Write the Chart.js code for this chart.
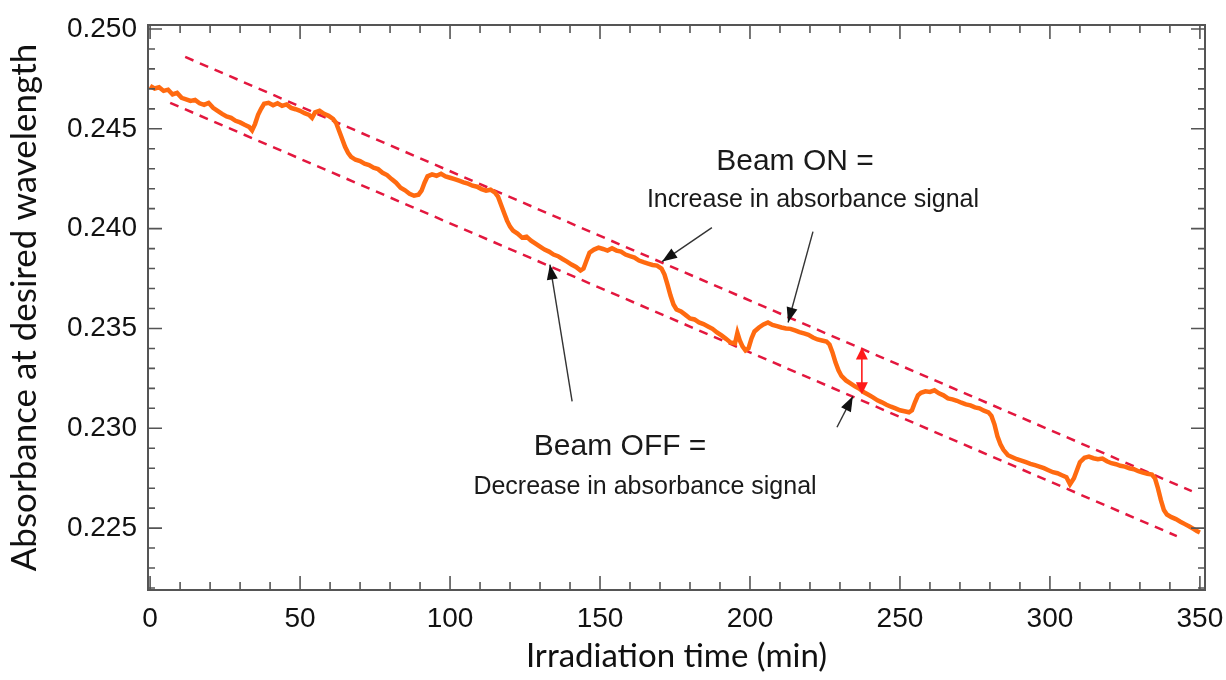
<!DOCTYPE html>
<html>
<head>
<meta charset="utf-8">
<script src="https://cdn.jsdelivr.net/npm/chart.js@4.4.1/dist/chart.umd.min.js"></script>
<style>
html, body { margin: 0; padding: 0; background: #fff; }
#wrap { width: 1226px; height: 680px; }
</style>
</head>
<body>
<div id="wrap"><canvas id="myChart"></canvas></div>
<script>
// irradiation time (min) and absorbance
var timeMin = [
  0, 1.5, 3, 4.5, 6, 7.5, 9, 10.5, 12, 13.5, 15, 16.5, 18, 19.5, 21, 22.5, 24, 25.5, 27, 28.5, 30, 31.5, 33, 34,
  35, 36, 37, 38, 39.5, 41, 42.5, 44, 45.5, 47, 48.5, 50, 51.5, 53, 54, 55, 56.5, 58, 59.5, 61, 62,
  63, 64, 65, 66, 67, 68.5, 70, 71.5, 73, 74.5, 76, 77.5, 79, 80.5, 82, 83.5, 85, 86.5, 88, 89.5,
  90.5, 91.5, 92.5, 94, 95.5, 97, 98.5, 100, 101.5, 103, 104.5, 106, 107.5, 109, 110.5, 112, 113.5, 115, 116,
  117, 118, 119, 120, 121, 122.5, 124, 125.5, 127, 128.5, 130, 131.5, 133, 134.5, 136, 137.5, 139, 140.5, 142, 143.5, 144.5,
  145.5, 146.5, 148, 149.5, 151, 152.5, 154, 155.5, 157, 158.5, 160, 161.5, 163, 164.5, 166, 167.5, 169, 170.5, 171.5,
  172.5, 173.5, 174.5, 175.5, 177, 178.5, 180, 181.5, 183, 184.5, 186, 187.5, 189, 190.5, 192, 193.5, 195, 195.8, 196.6, 197.5, 198.5, 199.5,
  200.5, 201.5, 203, 204.5, 206, 207.5, 209, 210.5, 212, 213.5, 215, 216.5, 218, 219.5, 221, 222.5, 224, 225.5, 226.5,
  227.5, 228.5, 229.5, 230.5, 232, 233.5, 235, 236.5, 238, 239.5, 241, 242.5, 244, 245.5, 247, 248.5, 250, 251.5, 253, 254,
  255, 256, 257, 258.5, 260, 261.5, 263, 264.5, 266, 267.5, 269, 270.5, 272, 273.5, 275, 276.5, 278, 279.5, 280.5,
  281.5, 282.5, 283.5, 284.5, 286, 287.5, 289, 290.5, 292, 293.5, 295, 296.5, 298, 299.5, 301, 302.5, 304, 305.5, 306.7,
  308, 309, 310, 311.5, 313, 314.5, 316, 317.5, 319, 320.5, 322, 323.5, 325, 326.5, 328, 329.5, 331, 332.5, 334, 335,
  336, 337, 338, 339, 340.5, 342, 343.5, 345, 346.5, 348, 349, 350
];
var absorbance = [
  0.24715, 0.24702, 0.24708, 0.24690, 0.24696, 0.24672, 0.24680, 0.24655, 0.24648, 0.24640, 0.24645, 0.24628, 0.24620, 0.24630, 0.24605, 0.24590, 0.24575, 0.24562, 0.24555, 0.24540, 0.24532, 0.24520, 0.24510, 0.24492,
  0.24525, 0.24570, 0.24600, 0.24625, 0.24630, 0.24618, 0.24628, 0.24615, 0.24622, 0.24605, 0.24598, 0.24590, 0.24578, 0.24570, 0.24555, 0.24582, 0.24590, 0.24575, 0.24565, 0.24550, 0.24530,
  0.24490, 0.24450, 0.24410, 0.24380, 0.24360, 0.24345, 0.24338, 0.24325, 0.24318, 0.24305, 0.24298, 0.24280, 0.24268, 0.24248, 0.24230, 0.24205, 0.24192, 0.24175, 0.24165, 0.24170,
  0.24190, 0.24230, 0.24262, 0.24272, 0.24265, 0.24275, 0.24262, 0.24255, 0.24248, 0.24240, 0.24232, 0.24225, 0.24215, 0.24210, 0.24198, 0.24190, 0.24195, 0.24180, 0.24160,
  0.24120, 0.24080, 0.24040, 0.24010, 0.23990, 0.23975, 0.23955, 0.23960, 0.23940, 0.23925, 0.23910, 0.23895, 0.23885, 0.23870, 0.23862, 0.23848, 0.23835, 0.23820, 0.23808, 0.23790, 0.23800,
  0.23840, 0.23880, 0.23895, 0.23905, 0.23898, 0.23890, 0.23902, 0.23890, 0.23885, 0.23870, 0.23862, 0.23855, 0.23840, 0.23832, 0.23825, 0.23818, 0.23815, 0.23800, 0.23770,
  0.23720, 0.23665, 0.23620, 0.23595, 0.23585, 0.23568, 0.23550, 0.23545, 0.23530, 0.23522, 0.23510, 0.23498, 0.23480, 0.23465, 0.23448, 0.23430, 0.23425, 0.23478, 0.23440, 0.23410, 0.23390, 0.23400,
  0.23450, 0.23485, 0.23505, 0.23520, 0.23530, 0.23518, 0.23512, 0.23505, 0.23500, 0.23498, 0.23490, 0.23482, 0.23475, 0.23468, 0.23455, 0.23445, 0.23440, 0.23435, 0.23420,
  0.23380, 0.23330, 0.23290, 0.23262, 0.23240, 0.23225, 0.23210, 0.23198, 0.23180, 0.23168, 0.23155, 0.23140, 0.23130, 0.23118, 0.23108, 0.23100, 0.23090, 0.23085, 0.23080, 0.23090,
  0.23130, 0.23165, 0.23178, 0.23185, 0.23182, 0.23190, 0.23175, 0.23165, 0.23150, 0.23145, 0.23138, 0.23128, 0.23120, 0.23115, 0.23105, 0.23100, 0.23088, 0.23080, 0.23062,
  0.23020, 0.22960, 0.22920, 0.22892, 0.22865, 0.22855, 0.22845, 0.22838, 0.22830, 0.22822, 0.22815, 0.22808, 0.22800, 0.22790, 0.22780, 0.22775, 0.22765, 0.22755, 0.22720,
  0.22750, 0.22790, 0.22830, 0.22852, 0.22858, 0.22850, 0.22845, 0.22848, 0.22835, 0.22825, 0.22820, 0.22812, 0.22808, 0.22800, 0.22795, 0.22785, 0.22778, 0.22772, 0.22768, 0.22750,
  0.22700, 0.22640, 0.22590, 0.22568, 0.22555, 0.22545, 0.22532, 0.22520, 0.22508, 0.22495, 0.22485, 0.22478
];

// dashed guide lines (start / end)
var upperGuideX = [11.7, 347.3];
var upperGuideY = [0.2486, 0.22685];
var lowerGuideX = [6.7, 342.3];
var lowerGuideY = [0.2463, 0.2246];

var xTickValues = [0, 50, 100, 150, 200, 250, 300, 350];
var yTickValues = [0.225, 0.230, 0.235, 0.240, 0.245, 0.250];

// annotation texts: [text, t, absorbance, font]
var notes = [
  ['Beam ON =', 215, 0.24335, '30px "Liberation Sans", Arial, sans-serif'],
  ['Increase in absorbance signal', 221, 0.24145, '25px "Liberation Sans", Arial, sans-serif'],
  ['Beam OFF =', 156.7, 0.2291, '30px "Liberation Sans", Arial, sans-serif'],
  ['Decrease in absorbance signal', 165, 0.22705, '25px "Liberation Sans", Arial, sans-serif']
];
// black arrows: [fromT, fromA, toT, toA]
var arrows = [
  [187.3, 0.24005, 170.7, 0.23835],
  [221, 0.23985, 212.7, 0.2353],
  [140.7, 0.23135, 133.3, 0.2382],
  [229, 0.23005, 234.3, 0.2316]
];
// red double arrow: [t, top, bottom]
var gapArrow = [237.3, 0.23405, 0.2317];

function toPoints(xs, ys) {
  return xs.map(function (v, i) { return { x: v, y: ys[i] }; });
}

function arrowHead(ctx, x1, y1, x2, y2, len, w) {
  var a = Math.atan2(y2 - y1, x2 - x1);
  ctx.beginPath();
  ctx.moveTo(x2, y2);
  ctx.lineTo(x2 - len * Math.cos(a) + w * Math.sin(a), y2 - len * Math.sin(a) - w * Math.cos(a));
  ctx.lineTo(x2 - len * Math.cos(a) - w * Math.sin(a), y2 - len * Math.sin(a) + w * Math.cos(a));
  ctx.closePath();
  ctx.fill();
}

var framePlugin = {
  id: 'frame',
  afterDraw: function (chart) {
    var ctx = chart.ctx, a = chart.chartArea, x = chart.scales.x, y = chart.scales.y;
    ctx.save();
    ctx.strokeStyle = '#555';
    ctx.lineWidth = 2;
    ctx.strokeRect(a.left, a.top, a.right - a.left, a.bottom - a.top);
    ctx.lineWidth = 1.6;
    ctx.beginPath();
    for (var k = 0; k <= 35; k++) {
      var px = x.getPixelForValue(k * 10);
      var len = k % 5 === 0 ? 14 : 8;
      ctx.moveTo(px, a.bottom); ctx.lineTo(px, a.bottom - len);
      ctx.moveTo(px, a.top); ctx.lineTo(px, a.top + len);
    }
    for (var m = 222; m <= 250; m++) {
      var py = y.getPixelForValue(m / 1000);
      var l2 = m % 5 === 0 ? 14 : 7;
      ctx.moveTo(a.left, py); ctx.lineTo(a.left + l2, py);
      ctx.moveTo(a.right, py); ctx.lineTo(a.right - l2, py);
    }
    ctx.stroke();

    // text notes
    ctx.fillStyle = '#1a1a1a';
    ctx.textAlign = 'center';
    ctx.textBaseline = 'middle';
    notes.forEach(function (n) {
      ctx.font = n[3];
      ctx.fillText(n[0], x.getPixelForValue(n[1]), y.getPixelForValue(n[2]));
    });

    // black arrows
    ctx.strokeStyle = '#333';
    ctx.fillStyle = '#111';
    ctx.lineWidth = 1.4;
    arrows.forEach(function (r) {
      var x1 = x.getPixelForValue(r[0]), y1 = y.getPixelForValue(r[1]);
      var x2 = x.getPixelForValue(r[2]), y2 = y.getPixelForValue(r[3]);
      ctx.beginPath(); ctx.moveTo(x1, y1); ctx.lineTo(x2, y2); ctx.stroke();
      arrowHead(ctx, x1, y1, x2, y2, 15, 5.5);
    });

    // red double arrow
    var gx = x.getPixelForValue(gapArrow[0]);
    var gy1 = y.getPixelForValue(gapArrow[1]), gy2 = y.getPixelForValue(gapArrow[2]);
    ctx.strokeStyle = '#ff1a1a';
    ctx.fillStyle = '#ff1a1a';
    ctx.lineWidth = 1.6;
    ctx.beginPath(); ctx.moveTo(gx, gy1 + 8); ctx.lineTo(gx, gy2 - 8); ctx.stroke();
    arrowHead(ctx, gx, gy2, gx, gy1, 12, 6);
    arrowHead(ctx, gx, gy1, gx, gy2, 12, 6);
    ctx.restore();
  }
};

var tickFont = { family: '"Liberation Sans", Arial, sans-serif', size: 28 };
var titleFont = { family: 'Lato, "Open Sans", sans-serif', size: 33 };

new Chart(document.getElementById('myChart'), {
  type: 'line',
  data: {
    datasets: [{
      label: 'Absorbance',
      data: toPoints(timeMin, absorbance),
      borderColor: '#ff6a10',
      borderWidth: 4.5,
      pointRadius: 0,
      tension: 0
    }, {
      label: 'upper',
      data: toPoints(upperGuideX, upperGuideY),
      borderColor: '#e3173e',
      borderWidth: 2.5,
      borderDash: [9, 7],
      pointRadius: 0
    }, {
      label: 'lower',
      data: toPoints(lowerGuideX, lowerGuideY),
      borderColor: '#e3173e',
      borderWidth: 2.5,
      borderDash: [9, 7],
      pointRadius: 0
    }]
  },
  options: {
    responsive: true,
    maintainAspectRatio: false,
    animation: false,
    layout: { padding: { top: 25, right: 21, left: 0, bottom: 0 } },
    plugins: { legend: { display: false }, tooltip: { enabled: false } },
    scales: {
      x: {
        type: 'linear',
        min: -0.7,
        max: 351.7,
        afterBuildTicks: function (s) { s.ticks = xTickValues.map(function (v) { return { value: v }; }); },
        afterFit: function (s) { s.height = 90; s.paddingLeft = 0; s.paddingRight = 0; },
        grid: { display: false, drawTicks: false },
        border: { display: false },
        ticks: { font: tickFont, color: '#111', padding: 12, maxRotation: 0, autoSkip: false },
        title: { display: true, text: 'Irradiation time (min)', font: titleFont, color: '#111', padding: { top: 0 } }
      },
      y: {
        min: 0.2219,
        max: 0.2502,
        afterBuildTicks: function (s) { s.ticks = yTickValues.map(function (v) { return { value: v }; }); },
        afterFit: function (s) { s.width = 148; s.paddingTop = 0; s.paddingBottom = 0; },
        grid: { display: false, drawTicks: false },
        border: { display: false },
        ticks: {
          font: tickFont, color: '#111', padding: 11, autoSkip: false,
          callback: function (v) { return v.toFixed(3); }
        },
        title: { display: true, text: 'Absorbance at desired wavelength', font: { family: titleFont.family, size: 35 }, color: '#111', padding: { bottom: 0 } }
      }
    }
  },
  plugins: [framePlugin]
});
</script>
</body>
</html>
